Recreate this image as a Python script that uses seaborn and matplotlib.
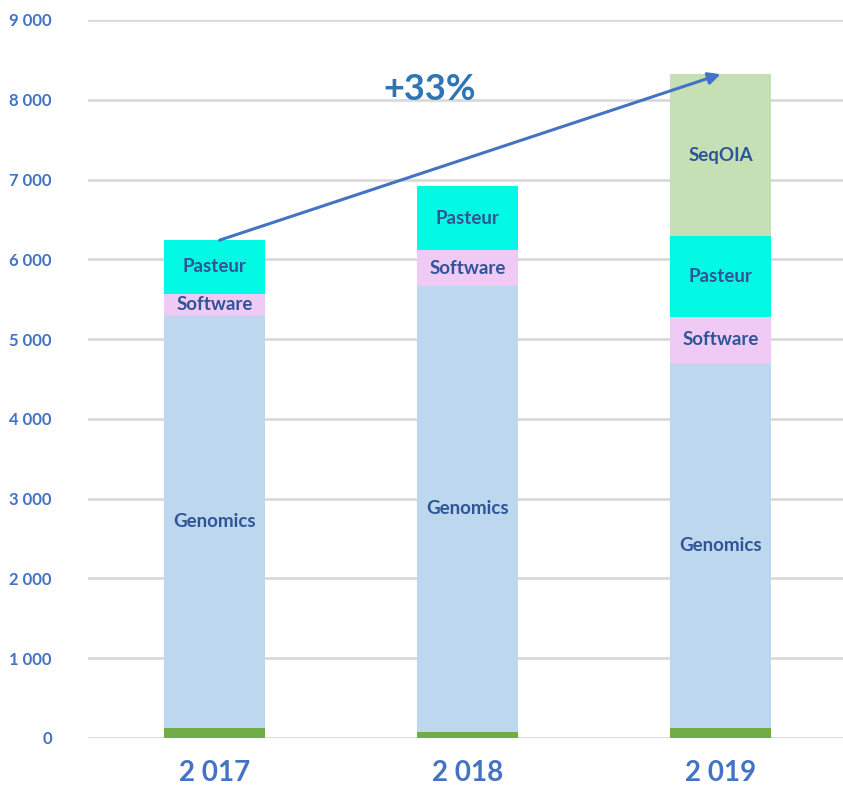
import numpy as np
import pandas as pd
import matplotlib.pyplot as plt
import seaborn as sns

# values
years = ["2 017", "2 018", "2 019"]
base = [130, 80, 130]
genomics = [5170, 5585, 4570]
software = [270, 450, 580]
pasteur = [670, 805, 1015]
seqoia = [0, 0, 2025]

layers = ["base", "Genomics", "Software", "Pasteur", "SeqOIA"]
values = [base, genomics, software, pasteur, seqoia]
colors = ["#70AD47", "#BDD7EE", "#EECAF5", "#02F9E4", "#C5E0B4"]

sns.set_style("white")
plt.rcParams['font.family'] = ['Lato', 'DejaVu Sans']

df = pd.DataFrame({name: v for name, v in zip(layers, values)}, index=years)
cum = df.cumsum(axis=1)

fig = plt.figure(figsize=(8.43, 7.87), dpi=100)
ax = fig.add_axes([0.1044, 0.0623, 0.8956, 0.9123])

# stacked bars: draw cumulative totals from the top down
for name, col in reversed(list(zip(layers, colors))):
    sns.barplot(x=cum.index, y=cum[name].values, color=col, width=0.4,
                linewidth=0, saturation=1, ax=ax, zorder=2)

# segment labels
lab_col = "#2F5597"
for i, yr in enumerate(years):
    for name in layers[1:]:
        v = df.loc[yr, name]
        if v <= 0:
            continue
        mid = cum.loc[yr, name] - v / 2
        ax.text(i, mid, name, ha="center", va="center", color=lab_col,
                fontsize=13.5, fontweight="bold", zorder=4)

# growth arrow
tot = cum["SeqOIA"].values
ax.annotate("", xy=(2, tot[2]), xytext=(0.02, tot[0]),
            arrowprops=dict(arrowstyle="-|>", color="#4472C4", lw=2.2,
                            mutation_scale=18, shrinkA=0, shrinkB=0),
            zorder=5)
growth = (tot[2] / tot[0] - 1) * 100
ax.text(0.85, 8130, "+%d%%" % round(growth), ha="center", va="center",
        color="#2E75B6", fontsize=26, fontweight="bold", zorder=5)

ax.set_ylim(0, 9000)
ax.set_xlim(-0.5, 2.484)
ticks = np.arange(0, 9001, 1000)
ax.set_yticks(ticks)
ax.set_yticklabels(["{:,}".format(t).replace(",", " ") for t in ticks])
ax.yaxis.grid(True, color="#D9D9D9", lw=2, zorder=0)
ax.set_axisbelow(True)
for s in ax.spines.values():
    s.set_visible(False)
ax.tick_params(axis="y", length=0, pad=26, labelsize=12, labelcolor="#4472C4")
ax.tick_params(axis="x", length=0, pad=16, labelsize=20, labelcolor="#4472C4")
for t in ax.get_yticklabels() + ax.get_xticklabels():
    t.set_fontweight("bold")
ax.set_xlabel("")
ax.set_ylabel("")

fig.savefig("out.png", dpi=100)
